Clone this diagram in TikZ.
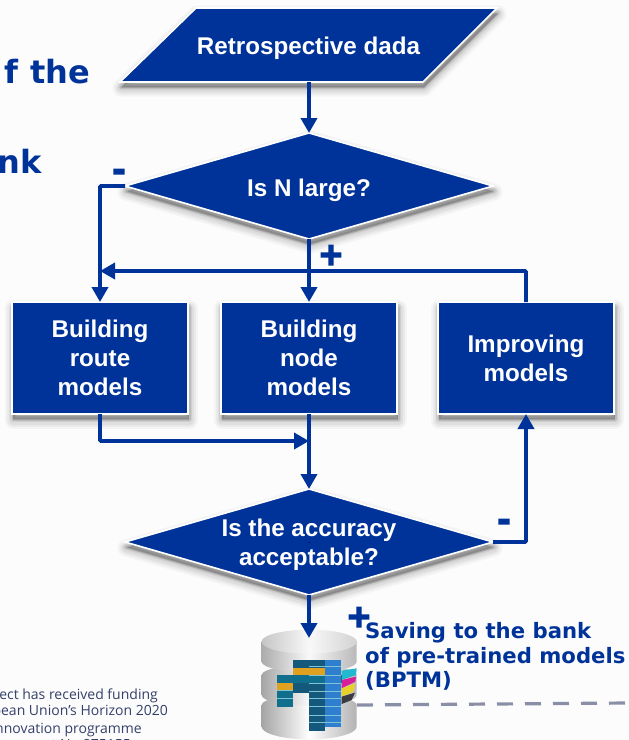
\documentclass[tikz,border=0pt]{standalone}
\usepackage{fontspec}
\setmainfont{Liberation Sans}
\newfontfamily\verd{DejaVu Sans}
\newfontfamily\signf[FakeBold=5]{DejaVu Sans Bold}
\newfontfamily\foot{Open Sans}
\usetikzlibrary{shapes.geometric,arrows.meta,shadows,calc}
\definecolor{eublue}{HTML}{003399}
\definecolor{pagebg}{HTML}{FCFCFC}
\definecolor{footc}{HTML}{34406A}
\definecolor{dashc}{HTML}{8A8FA6}
\definecolor{dbteal}{HTML}{14597C}
\definecolor{dbteal2}{HTML}{0F6F8C}
\definecolor{dbline}{HTML}{7FC4D4}
\definecolor{dbblue}{HTML}{2F7FD0}
\definecolor{dbamber}{HTML}{DFA11F}
\definecolor{dbcyan}{HTML}{22B8D0}
\definecolor{dbmag}{HTML}{D81E9A}
\definecolor{dbyel}{HTML}{E8CF2A}
\definecolor{dbdark}{HTML}{3A3A40}
\tikzset{
  softshadow/.style={
    general shadow={draw=black,fill=black,line join=round,opacity=.03,line width=17pt,shadow yshift=-6pt,shadow xshift=1pt},
    general shadow={draw=black,fill=black,line join=round,opacity=.04,line width=13pt,shadow yshift=-6pt,shadow xshift=1pt},
    general shadow={draw=black,fill=black,line join=round,opacity=.05,line width=9pt,shadow yshift=-6pt,shadow xshift=1pt},
    general shadow={draw=black,fill=black,line join=round,opacity=.07,line width=6pt,shadow yshift=-5pt,shadow xshift=1pt},
    general shadow={draw=black,fill=black,line join=round,opacity=.09,line width=3pt,shadow yshift=-5pt,shadow xshift=1pt}},
  flowbase/.style={softshadow,fill=eublue,draw=white,line width=1.6pt,outer sep=0pt,inner sep=0pt},
  flowtext/.style={text=white,inner sep=0pt,align=center,font=\fontsize{24.2}{28.7}\selectfont\bfseries},
  decision/.style={flowbase,diamond,minimum width=368pt,minimum height=106pt},
  process/.style={flowbase,flowtext,rectangle,minimum width=176pt,minimum height=112pt},
  flow/.style={draw=eublue,line width=3.6pt,-{Stealth[length=15pt,width=16pt,inset=0pt]}},
  sign/.style={text=eublue,inner sep=0pt,font=\signf\fontsize{31}{31}\selectfont},
  heading/.style={text=eublue,inner sep=0pt,font=\verd\fontsize{32}{32}\selectfont\bfseries},
  caption/.style={text=eublue,inner sep=0pt,align=left,font=\verd\fontsize{21.2}{24.7}\selectfont\bfseries},
  footline/.style={text=footc,inner sep=0pt,anchor=base east,font=\foot\fontsize{14}{14}\selectfont},
  dashline/.style={draw=dashc,line width=3.2pt,dash pattern=on 16pt off 12pt},
}
\begin{document}
\begin{tikzpicture}[x=1pt,y=-1pt]
\useasboundingbox (0,0) rectangle (629,740);
\clip (0,0) rectangle (629,740);
\fill[pagebg] (0,0) rectangle (629,740);

% cropped slide text
\node[heading,anchor=base east] (h1) at (90,83) {f the};
\node[heading,anchor=base east] (h2) at (42,173) {nk};
\node[footline] (f1) at (158,699) {ect has received funding};
\node[footline] (f2) at (168,715.5) {pean Union’s Horizon 2020};
\node[footline] (f3) at (142,733) {nnovation programme};
\node[footline] (f4) at (131,749.5) {agreement No 875155};

% flow shapes
\path[flowbase] (120,82) -- (196,8) -- (497,8) -- (423,82) -- cycle;
\coordinate (dataout) at (309,82);
\node[flowtext] (datat) at (308.5,48) {Retrospective dada};
\node[decision] (q1) at (309,186) {\rule{1pt}{1pt}};
\node[flowtext] (q1t) at (309,190) {Is N large?};
\node[process] (route) at (100,358) {Building\\route\\models};
\node[process] (node) at (309,358) {Building\\node\\models};
\node[process] (improve) at (526,358) {Improving\\models};
\node[decision] (q2) at (309,542) {\rule{1pt}{1pt}};
\node[flowtext] (q2t) at (309,544.5) {Is the accuracy\\acceptable?};

\coordinate (dbtop) at (309,638);
\coordinate (dbside) at (357,705);
\coordinate (dashend) at (629,703);

% database
\begin{scope}[shift={(230,580)},x=.33333pt,y=-.33333pt]
  \shade[left color=gray!70,right color=gray!60,middle color=white] (95,375) -- (95,440) arc[start angle=180,end angle=0,x radius=142.5,y radius=38] -- (380,375) arc[start angle=0,end angle=-180,x radius=142.5,y radius=30];
  \shade[left color=gray!70,right color=gray!55,middle color=gray!5] (95,285) -- (95,345) arc[start angle=180,end angle=0,x radius=142.5,y radius=32] -- (380,285) arc[start angle=0,end angle=-180,x radius=142.5,y radius=30];
  \shade[left color=gray!65,right color=gray!55,middle color=gray!5] (95,185) -- (95,245) arc[start angle=180,end angle=0,x radius=142.5,y radius=32] -- (380,185) arc[start angle=0,end angle=-180,x radius=142.5,y radius=32];
  \shade[left color=gray!45,right color=gray!35,middle color=gray!5] (95,185) arc[start angle=180,end angle=540,x radius=142.5,y radius=36];
  % coloured bands
  \fill[dbcyan] (335,272) -- (380,265) -- (378,285) -- (335,300) -- cycle;
  \fill[dbmag] (335,300) -- (378,290) -- (376,305) -- (335,325) -- cycle;
  \fill[dbyel] (335,325) -- (376,310) -- (370,335) -- (335,350) -- cycle;
  \fill[dbdark] (335,350) -- (375,338) -- (365,360) -- (335,372) -- cycle;
  \fill[dbteal] (190,240) rectangle (285,265);
  \fill[dbamber] (190,265) rectangle (285,285);
  \fill[dbteal2] (140,285) rectangle (335,310);
  \fill[dbamber] (140,310) rectangle (190,332);
  \fill[dbteal2] (140,332) rectangle (190,380);
  \fill[dbteal] (190,310) rectangle (285,340);
  \fill[dbteal] (237,340) rectangle (285,452);
  \fill[dbblue] (285,240) rectangle (332,440);
  \foreach \yy in {260,285,310,335,355,380,405,428}
    \draw[dbline,line width=.6pt] (237,\yy) -- (332,\yy);
  \foreach \yy in {332,355}
    \draw[dbline,line width=.6pt] (140,\yy) -- (190,\yy);
\end{scope}

% connectors
\draw[flow] (dataout) -- (q1.north);
\draw[flow,rounded corners=1pt] (q1.west) -| (route.north);
\draw[flow] (q1) -- (node);
\draw[flow,rounded corners=1pt] (improve.north) |- (route.north |- 0,271);
\draw[flow,rounded corners=1pt] (route.south) |- (node.south |- 0,441);
\draw[flow] (node) -- (q2);
\draw[flow,rounded corners=1pt] (q2.east) -| (improve.south);
\draw[flow] (q2) -- (dbtop);
\draw[dashline] (dbside) -- (dashend);

% signs
\node[sign] (s1) at (119,175) {-};
\node[sign] (s2) at (331,255) {+};
\node[sign] (s3) at (504,525) {-};
\node[sign] (s4) at (359,617) {+};

\node[caption,anchor=north west] (cap) at (365,622) {Saving to the bank\\of pre-trained models\\(BPTM)};
\end{tikzpicture}
\end{document}
